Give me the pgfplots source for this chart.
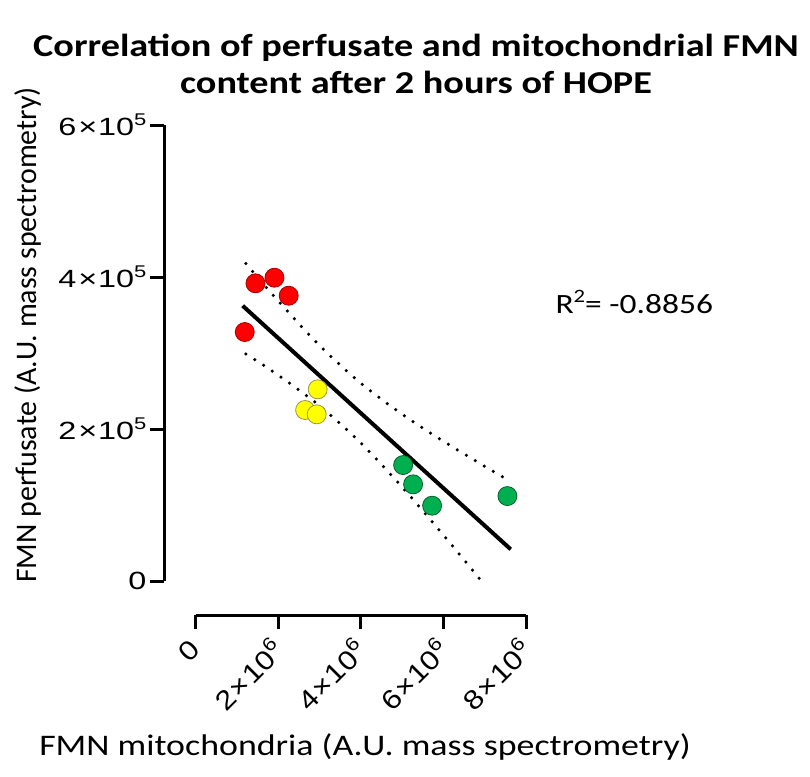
\documentclass[border=0pt]{standalone}
\usepackage{pgfplots}
\pgfplotsset{compat=1.18}
\usepackage{fontspec}
\setmainfont{Carlito}
\newfontfamily\wide[FakeStretch=1.2]{Carlito}
\newfontfamily\tickfont[FakeStretch=1.3]{Liberation Sans}
\newfontfamily\xtickfont[FakeStretch=1.15]{Liberation Sans}
\definecolor{ptred}{HTML}{FF0000}
\definecolor{ptyellow}{HTML}{FFFF00}
\definecolor{ptgreen}{HTML}{00B050}
\newcommand\tsup[1]{\raisebox{0.42em}{\fontsize{17}{17}\selectfont #1}}
\newcommand\xsup[1]{\raisebox{0.42em}{\fontsize{19}{19}\selectfont #1}}
\newcommand\rsup[1]{\raisebox{0.42em}{\fontsize{19}{19}\selectfont #1}}
\begin{document}
\begin{tikzpicture}[x=1bp,y=1bp]
\path[use as bounding box] (0,0) rectangle (810,-777);
\node[font=\wide\bfseries\fontsize{32}{37}\selectfont, align=center] at (416,-64) {Correlation of perfusate and mitochondrial FMN\\content after 2 hours of HOPE};
\begin{axis}[
  at={(195.5bp,-581bp)}, anchor=south west,
  scale only axis, width=330.5bp, height=456bp,
  xmin=0, xmax=8e6, ymin=0, ymax=6e5,
  scaled ticks=false,
  axis lines=left, axis line style={-, line width=3bp},
  axis x line shift=34bp, axis y line shift=31.5bp,
  tick align=outside, major tick length=14bp,
  every tick/.style={black, line width=3bp},
  xtick={0,2e6,4e6,6e6,8e6}, ytick={0,2e5,4e5,6e5},
  xticklabels={0, 2\kern1bp×\kern1bp10\xsup{6}, 4\kern1bp×\kern1bp10\xsup{6}, 6\kern1bp×\kern1bp10\xsup{6}, 8\kern1bp×\kern1bp10\xsup{6}},
  yticklabels={0, 2\kern2bp×\kern1bp10\tsup{5}, 4\kern2bp×\kern1bp10\tsup{5}, 6\kern2bp×\kern1bp10\tsup{5}},
  yticklabel style={font=\tickfont\fontsize{25}{25}\selectfont},
  xticklabel style={font=\xtickfont\fontsize{27}{27}\selectfont, xshift=2bp, rotate=45, anchor=east},
  xticklabel shift=13bp,
  clip=false,
]
\addplot[only marks, mark=*, mark size=9.5bp, mark options={fill=ptred, draw=red!65!black, line width=0.8bp}] coordinates {
(1.451e6,3.917e5) (1.911e6,3.991e5) (2.256e6,3.754e5) (1.192e6,3.276e5)};
\addplot[only marks, mark=*, mark size=9.5bp, mark options={fill=ptyellow, draw=yellow!55!black, line width=0.8bp}] coordinates {
(2.958e6,2.522e5) (2.653e6,2.250e5) (2.934e6,2.193e5)};
\addplot[only marks, mark=*, mark size=9.5bp, mark options={fill=ptgreen, draw=ptgreen!55!black, line width=0.8bp}] coordinates {
(5.026e6,1.526e5) (5.267e6,1.272e5) (5.727e6,0.991e5) (7.550e6,1.118e5)};
\addplot[black, line width=4bp] coordinates {(1.141e6,3.622e5) (7.63e6,0.417e5)};
\addplot[black, smooth, line width=3.5bp, line cap=round, dash pattern=on 0bp off 10.5bp] coordinates {
(1.22e6,4.178e5) (2e6,3.686e5) (3e6,3.101e5) (4e6,2.603e5) (5e6,2.195e5) (6e6,1.839e5) (7e6,1.509e5) (7.46e6,1.362e5)};
\addplot[black, smooth, line width=3.5bp, line cap=round, dash pattern=on 0bp off 10.5bp] coordinates {
(1.22e6,2.988e5) (2e6,2.710e5) (3e6,2.307e5) (4e6,1.817e5) (5e6,1.237e5) (6e6,0.605e5) (6.9e6,0.014e5)};
\end{axis}
\node[anchor=west, font=\wide\fontsize{28}{28}\selectfont] at (552,-302) {R\rsup{2}= -0.8856};
\node[rotate=90, font=\fontsize{30}{30}\selectfont] at (28,-335) {FMN perfusate (A.U. mass spectrometry)};
\node[font=\wide\fontsize{30}{30}\selectfont] at (365,-747) {FMN mitochondria (A.U. mass spectrometry)};
\end{tikzpicture}
\end{document}
